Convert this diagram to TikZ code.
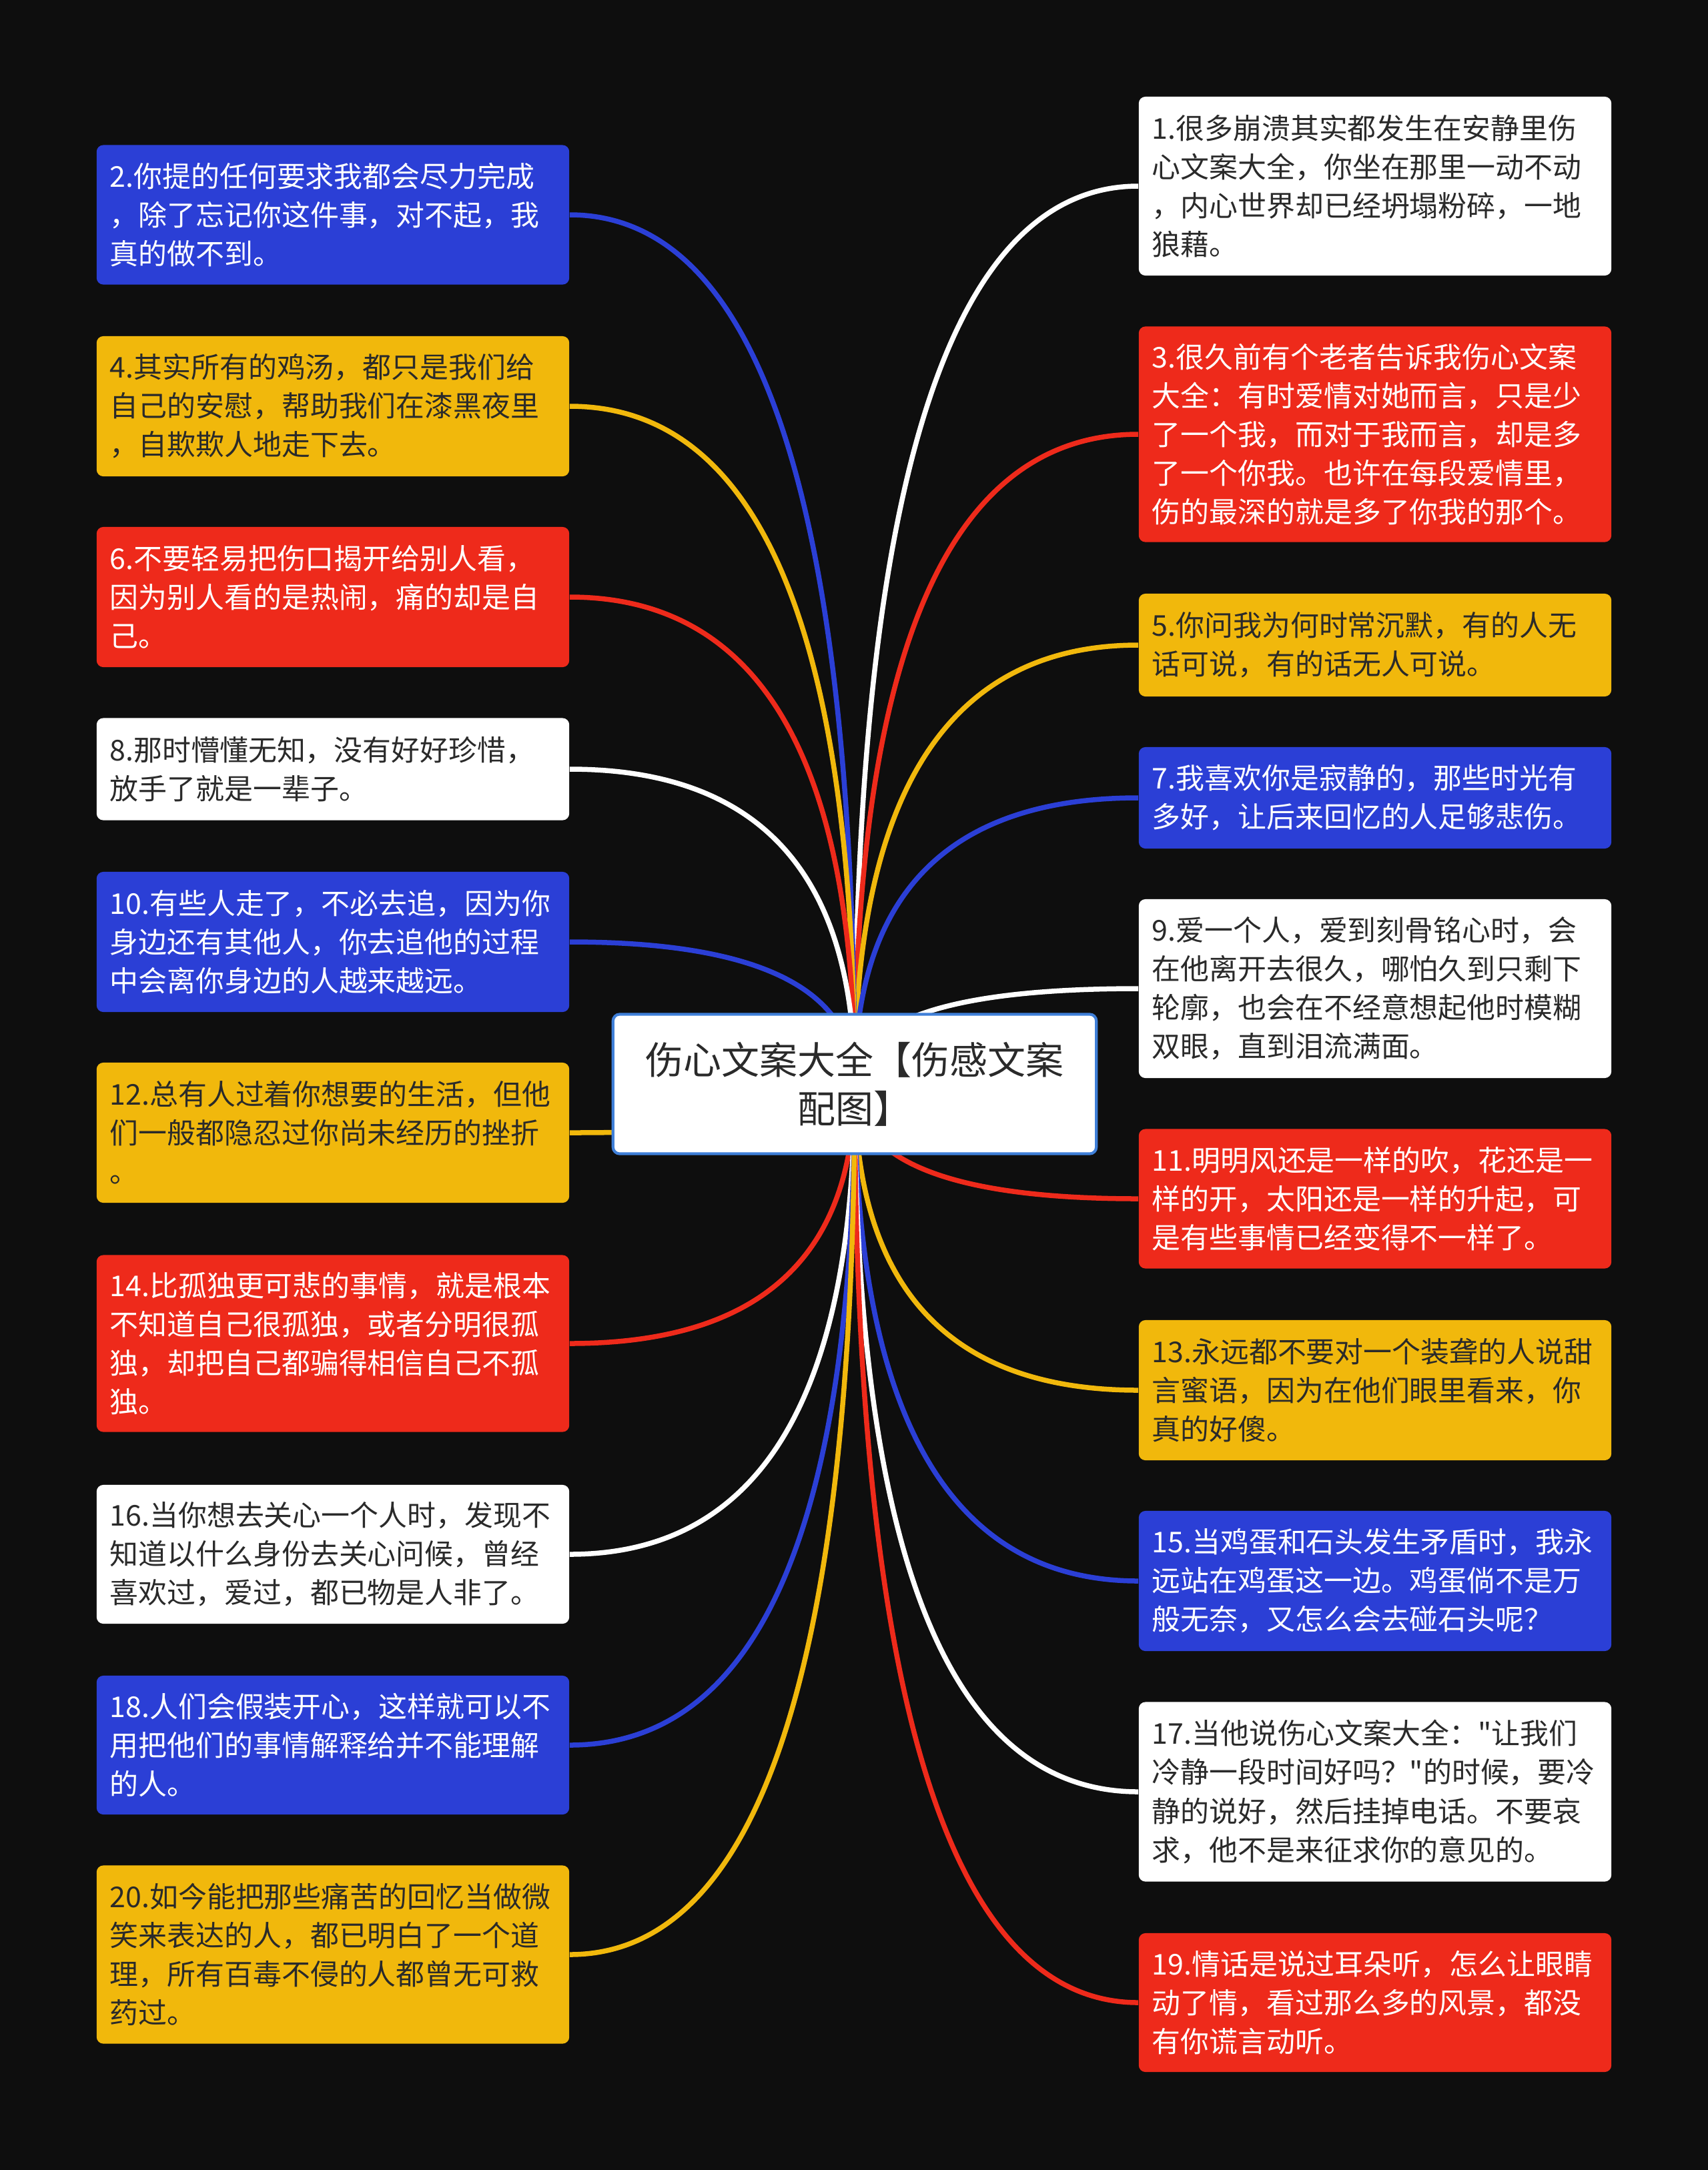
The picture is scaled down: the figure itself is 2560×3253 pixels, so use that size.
\documentclass[tikz,border=0pt]{standalone}
\usepackage{fontspec}
\setmainfont{Noto Sans CJK SC}[Ligatures=TeXOff]
\usetikzlibrary{calc}
\definecolor{mapbg}{HTML}{0E0E0E}
\definecolor{mapblue}{HTML}{2B3FD6}
\definecolor{mapyellow}{HTML}{F1B80C}
\definecolor{mapred}{HTML}{EE2A1B}
\definecolor{mapwhite}{HTML}{FFFFFF}
\definecolor{mapborder}{HTML}{3F7FD8}
\definecolor{mapdark}{HTML}{2A2A2A}
\pgfdeclarelayer{bg}
\pgfdeclarelayer{links}
\pgfsetlayers{bg,links,main}

\tikzset{
    leaf/.style={rounded corners=0.1cm, text width=6.68cm, inner xsep=0.2cm, inner ysep=0pt,
        align=left, font=\fontsize{12.2pt}{16.5pt}\selectfont},
    blueleaf/.style={leaf, fill=mapblue, text=white},
    yellowleaf/.style={leaf, fill=mapyellow, text=mapdark},
    redleaf/.style={leaf, fill=mapred, text=white},
    whiteleaf/.style={leaf, fill=mapwhite, text=mapdark},
    link/.style={line width=0.075cm}
}

\begin{document}
\begin{tikzpicture}[x=0.01cm, y=-0.01cm]
    % Background
    \begin{pgfonlayer}{bg}
        \fill[mapbg] (0,0) rectangle (2560,3253);
    \end{pgfonlayer}

    % Root
    \node[fill=white, draw=mapborder, line width=1.2pt, rounded corners=0.1cm, minimum width=7.24cm,
        minimum height=2.09cm, align=center, text=mapdark,
        font=\fontsize{16.2pt}{20.8pt}\selectfont] (root) at (1281,1625) {伤心文案大全【伤感文案\\配图】};

    % Left column
    \node[blueleaf, minimum height=2.09cm] (c2) at (499,322) {2.你提的任何要求我都会尽力完成\\，除了忘记你这件事，对不起，我\\真的做不到。};
    \node[yellowleaf, minimum height=2.1cm] (c4) at (499,609) {4.其实所有的鸡汤，都只是我们给\\自己的安慰，帮助我们在漆黑夜里\\，自欺欺人地走下去。};
    \node[redleaf, minimum height=2.1cm] (c6) at (499,895) {6.不要轻易把伤口揭开给别人看，\\因为别人看的是热闹，痛的却是自\\己。};
    \node[whiteleaf, minimum height=1.53cm] (c8) at (499,1153) {8.那时懵懂无知，没有好好珍惜，\\放手了就是一辈子。};
    \node[blueleaf, minimum height=2.1cm] (c10) at (499,1412) {10.有些人走了，不必去追，因为你\\身边还有其他人，你去追他的过程\\中会离你身边的人越来越远。};
    \node[yellowleaf, minimum height=2.1cm] (c12) at (499,1698) {12.总有人过着你想要的生活，但他\\们一般都隐忍过你尚未经历的挫折\\。};
    \node[redleaf, minimum height=2.65cm] (c14) at (499,2014) {14.比孤独更可悲的事情，就是根本\\不知道自己很孤独，或者分明很孤\\独，却把自己都骗得相信自己不孤\\独。};
    \node[whiteleaf, minimum height=2.08cm] (c16) at (499,2330) {16.当你想去关心一个人时，发现不\\知道以什么身份去关心问候，曾经\\喜欢过，爱过，都已物是人非了。};
    \node[blueleaf, minimum height=2.08cm] (c18) at (499,2616) {18.人们会假装开心，这样就可以不\\用把他们的事情解释给并不能理解\\的人。};
    \node[yellowleaf, minimum height=2.67cm] (c20) at (499,2930) {20.如今能把那些痛苦的回忆当做微\\笑来表达的人，都已明白了一个道\\理，所有百毒不侵的人都曾无可救\\药过。};

    % Right column
    \node[whiteleaf, minimum height=2.68cm] (c1) at (2061,279) {1.很多崩溃其实都发生在安静里伤\\心文案大全，你坐在那里一动不动\\，内心世界却已经坍塌粉碎，一地\\狼藉。};
    \node[redleaf, minimum height=3.23cm] (c3) at (2061,651) {3.很久前有个老者告诉我伤心文案\\大全：有时爱情对她而言，只是少\\了一个我，而对于我而言，却是多\\了一个你我。也许在每段爱情里，\\伤的最深的就是多了你我的那个。};
    \node[yellowleaf, minimum height=1.54cm] (c5) at (2061,967) {5.你问我为何时常沉默，有的人无\\话可说，有的话无人可说。};
    \node[blueleaf, minimum height=1.52cm] (c7) at (2061,1196) {7.我喜欢你是寂静的，那些时光有\\多好，让后来回忆的人足够悲伤。};
    \node[whiteleaf, minimum height=2.68cm] (c9) at (2061,1482) {9.爱一个人，爱到刻骨铭心时，会\\在他离开去很久，哪怕久到只剩下\\轮廓，也会在不经意想起他时模糊\\双眼，直到泪流满面。};
    \node[redleaf, minimum height=2.09cm] (c11) at (2061,1797) {11.明明风还是一样的吹，花还是一\\样的开，太阳还是一样的升起，可\\是有些事情已经变得不一样了。};
    \node[yellowleaf, minimum height=2.1cm] (c13) at (2061,2084) {13.永远都不要对一个装聋的人说甜\\言蜜语，因为在他们眼里看来，你\\真的好傻。};
    \node[blueleaf, minimum height=2.1cm] (c15) at (2061,2370) {15.当鸡蛋和石头发生矛盾时，我永\\远站在鸡蛋这一边。鸡蛋倘不是万\\般无奈，又怎么会去碰石头呢？};
    \node[whiteleaf, minimum height=2.69cm] (c17) at (2061,2686) {17.当他说伤心文案大全："让我们\\冷静一段时间好吗？"的时候，要冷\\静的说好，然后挂掉电话。不要哀\\求，他不是来征求你的意见的。};
    \node[redleaf, minimum height=2.08cm] (c19) at (2061,3002) {19.情话是说过耳朵听，怎么让眼睛\\动了情，看过那么多的风景，都没\\有你谎言动听。};

    % Links from the root
    \begin{pgfonlayer}{links}
        \foreach \n/\a/\col in {c1/west/mapwhite, c3/west/mapred, c5/west/mapyellow, c7/west/mapblue,
            c9/west/mapwhite, c11/west/mapred, c13/west/mapyellow, c15/west/mapblue, c17/west/mapwhite,
            c19/west/mapred, c2/east/mapblue, c4/east/mapyellow, c6/east/mapred, c8/east/mapwhite,
            c10/east/mapblue, c12/east/mapyellow, c14/east/mapred, c16/east/mapwhite, c18/east/mapblue,
            c20/east/mapyellow} {
            \coordinate (k) at (root.center |- \n.\a);
            \draw[link, draw=\col] (root.center) .. controls ($(root.center)!2/3!(k)$) and ($(\n.\a)!2/3!(k)$) .. (\n.\a);
        }
    \end{pgfonlayer}
\end{tikzpicture}
\end{document}
